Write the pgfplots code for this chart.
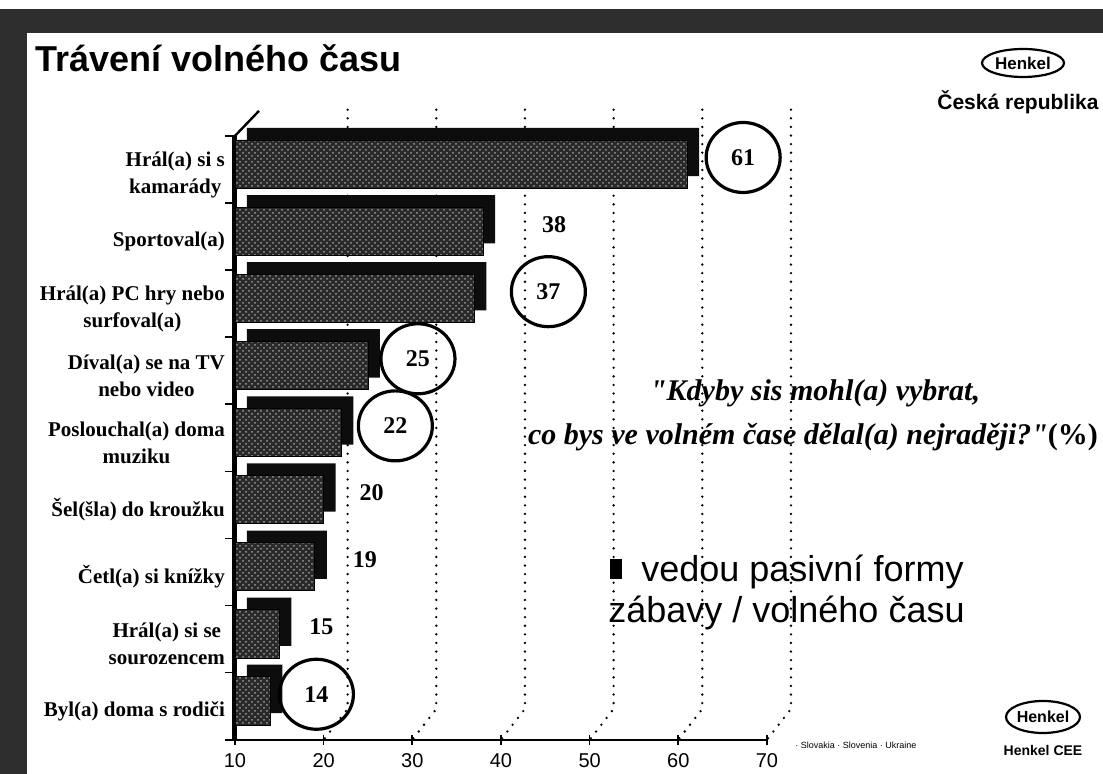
\documentclass[border=0pt]{standalone}
\usepackage{fontspec}
\setmainfont{Liberation Serif}
\setsansfont{Liberation Sans}
\newfontfamily\quotefont{Liberation Serif}
\usepackage{pgfplots}
\pgfplotsset{compat=1.18}
\usepackage{pgfplotstable}
\usetikzlibrary{shapes.geometric,patterns}

% pos 8 = top category; dx = label offset (pt), ring = circled label
\pgfplotstableread{
pos val dx ring
8 61 28 1
7 38 35.5 0
6 37 37 1
5 25 25 1
4 22 27 1
3 20 24 0
2 19 25 0
1 15 21 0
0 14 23 1
}\freetime

\begin{document}
\begin{tikzpicture}[x=0.5pt,y=0.5pt]
\useasboundingbox (0,0) rectangle (1103,774);
\fill[white] (0,0) rectangle (1103,774);
% scan border
\fill[black!82] (0,765) rectangle (1103,741);
\fill[black!82] (0,765) rectangle (27,0);

\node[anchor=base west, inner sep=0pt, font=\sffamily\bfseries\fontsize{18}{20}\selectfont] at (35,702) {Trávení volného času};

\begin{axis}[
    at={(265,51)}, anchor=south west,
    scale only axis, width=266pt, height=312pt,
    xmin=10, xmax=70, ymin=-0.5, ymax=8.8,
    xbar, bar width=0.72, bar shift=0.08,
    clip mode=individual,
    axis lines*=left, axis line style={-},
    x axis line style={line width=1pt},
    y axis line style={draw=none},
    xtick={10,20,...,70}, xtick align=center,
    ytick={-0.5,0.5,...,8.5}, ytick align=outside,
    major tick length=5pt,
    tick style={black, line width=0.8pt},
    yticklabels={Byl(a) doma s rodiči, {Hrál(a) si se\\sourozencem}, Četl(a) si knížky,
        Šel(šla) do kroužku, {Poslouchal(a) doma\\muziku}, {Díval(a) se na TV\\nebo video},
        {Hrál(a) PC hry nebo\\surfoval(a)}, Sportoval(a), {Hrál(a) si s\\kamarády}, {}},
    yticklabel style={font=\bfseries\fontsize{10.5}{13.5}\selectfont, align=center, yshift=14.25pt, xshift=3.5pt},
    xticklabel style={font=\sffamily\fontsize{10}{12}\selectfont, yshift=-1pt},
    /pgf/number format/assume math mode=true,
]
% back-wall grid (pseudo 3D)
\pgfplotsinvokeforeach{20,30,40,50,60,70}{
  \draw[black, line width=1.3pt, line cap=round, dash pattern=on 0pt off 4.3pt]
    ([xshift=12pt]axis cs:#1,8.89) -- ([xshift=12pt]axis cs:#1,-0.04) -- (axis cs:#1,-0.5);
}
\draw[black, line width=2.5pt] (axis cs:10,-0.5) -- (axis cs:10,8.5);
\draw[black, line width=1.2pt] (axis cs:10,8.5) -- ([xshift=12pt,yshift=12.5pt]axis cs:10,8.5);

% bar depth
\addplot[fill=black!95, draw=none, xshift=6pt, yshift=6pt, forget plot]
    table[x=val, y=pos] {\freetime};
% bar front
\addplot[fill=black!84, draw=black,
    postaction={pattern=crosshatch dots, pattern color=black!40},
    nodes near coords, point meta=x,
    visualization depends on={\thisrow{dx}\as\dx},
    visualization depends on={\thisrow{ring}\as\isring},
    every node near coord/.append style={anchor=center, xshift=\dx pt, yshift=3.3pt,
        ellipse, draw=black, draw opacity=\isring, line width=1.6pt,
        minimum width=37pt, minimum height=35pt, inner sep=0pt,
        font=\bfseries\fontsize{12}{14}\selectfont, text=black}]
    table[x=val, y=pos] {\freetime};
\end{axis}

% Henkel logos
\draw[line width=1.1pt] (1023,711) ellipse [x radius=20.5pt, y radius=7pt];
\node[font=\sffamily\bfseries\fontsize{8.5}{10}\selectfont] at (1023,711) {Henkel};
\node[anchor=west, inner sep=0pt, font=\sffamily\bfseries\fontsize{10.5}{12}\selectfont] at (937,672) {Česká republika};
\draw[line width=1.1pt] (1043,57) ellipse [x radius=18.5pt, y radius=8pt];
\node[font=\sffamily\bfseries\fontsize{8}{10}\selectfont] at (1043,57) {Henkel};
\node[font=\sffamily\bfseries\fontsize{7}{8}\selectfont] at (1043,23) {Henkel CEE};
\node[anchor=west, inner sep=0pt, font=\sffamily\fontsize{4.5}{5}\selectfont] at (795,29) {· Slovakia · Slovenia · Ukraine};

% question
\node[anchor=base, inner sep=0pt, font=\quotefont\bfseries\itshape\fontsize{15}{17}\selectfont] at (815,373) {"Kdyby sis mohl(a) vybrat,};
\node[anchor=base, inner sep=0pt, font=\quotefont\bfseries\fontsize{15}{17}\selectfont] at (813,329) {\itshape co bys ve volném čase dělal(a) nejraději?"\upshape(\%)};

% note
\fill[black] (610,215) rectangle (622,195);
\node[anchor=base west, inner sep=0pt, font=\sffamily\fontsize{18}{21}\selectfont] at (641,192) {vedou pasivní formy};
\node[anchor=base west, inner sep=0pt, font=\sffamily\fontsize{18}{21}\selectfont] at (608,151) {zábavy / volného času};
\end{tikzpicture}
\end{document}
